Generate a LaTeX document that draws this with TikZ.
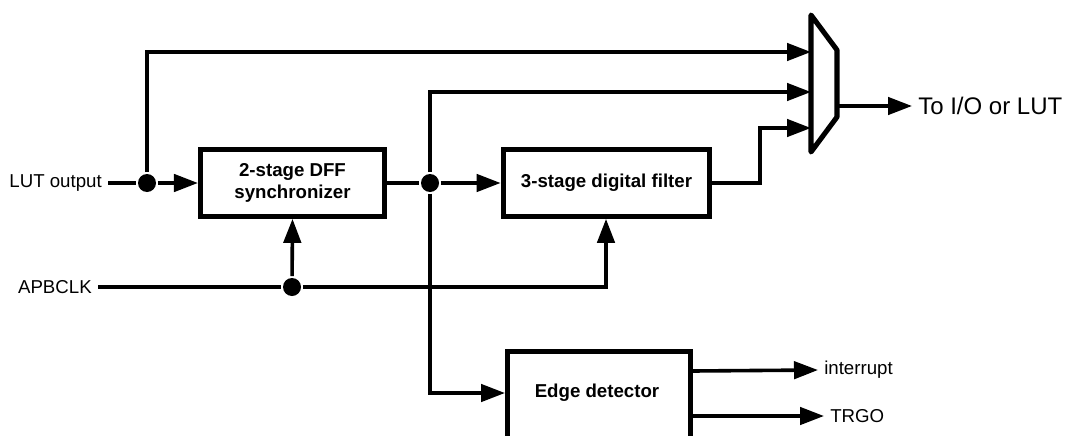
\documentclass[tikz,border=0pt]{standalone}
\usepackage{fontspec}
\setmainfont{Liberation Sans}
\usetikzlibrary{arrows.meta,positioning}

\begin{document}
\begin{tikzpicture}[x=0.75pt, y=-0.75pt, line width=2.7pt,
  >={Triangle[length=18pt,width=13pt]},
  block/.style={draw, line width=3.8pt, inner sep=0pt, align=center,
                font=\bfseries\fontsize{14}{16}\selectfont},
  sig/.style={font=\fontsize{14}{16}\selectfont},
  dot/.style={circle, fill, inner sep=0pt, minimum size=13.5pt}]
  \clip (0,0) rectangle (1073,435);
  % blocks
  \node[block, minimum width=138pt, minimum height=50pt] (sync) at (292.5,183) {2-stage DFF\\synchronizer};
  \node[block, minimum width=155pt, minimum height=50pt] (filt) at (606.5,183) {3-stage digital filter};
  \node[block, minimum width=137pt, minimum height=100pt, anchor=north west] (edge) at (505,349) {};
  \node[font=\bfseries\fontsize{14}{16}\selectfont] (edgetxt) at (597,393) {Edge detector};
  % mux
  \draw[line width=3.8pt, line join=round] (811,15) -- (837,50) -- (837,117) -- (811,152) -- cycle;
  \coordinate (min1) at (811,52);
  \coordinate (min2) at (811,92);
  \coordinate (min3) at (811,128);
  \coordinate (mout) at (837,106);
  % labels
  \node[sig, anchor=east] (lut) at (108,183) {LUT output};
  \node[sig, anchor=east] (clk) at (98,287) {APBCLK};
  \node[font=\fontsize{18}{20}\selectfont, anchor=west] (out) at (912,106) {To I/O or LUT};
  \node[sig, anchor=west] (irq) at (818,370) {interrupt};
  \node[sig, anchor=west] (trgo) at (824,416) {TRGO};
  % junctions
  \node[dot] (j1) at (147,183) {};
  \node[dot] (j2) at (430,183) {};
  \node[dot] (j3) at (292,287) {};
  % wires
  \draw (lut.east) -- (j1);
  \draw[->] (j1) -- (sync.west);
  \draw (sync.east) -- (j2);
  \draw[->] (j2) -- (filt.west);
  \draw[->] (j1) |- (min1);
  \draw[->] (j2) |- (min2);
  \draw[->] (filt.east) -- (760,183) |- (min3);
  \draw[->] (mout) -- (out.west);
  \draw (clk.east) -- (j3);
  \draw[->] (j3) -- (sync.south);
  \draw[->] (j3) -- (606,287) -- (filt.south -| 606,0);
  \draw[->] (j2) |- (edge.west |- 0,393);
  \draw[->] (edge.east |- 0,371) -- (irq.west);
  \draw[->] (edge.east |- 0,416) -- (trgo.west);
\end{tikzpicture}
\end{document}
